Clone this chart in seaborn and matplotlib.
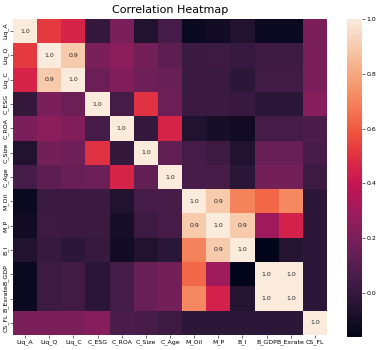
import numpy as np
import pandas as pd
import seaborn as sns
import matplotlib
matplotlib.use('Agg')
import matplotlib.pyplot as plt

labels = ['Liq_A', 'Liq_Q', 'Liq_C', 'C_ESG', 'C_ROA', 'C_Size', 'C_Age',
          'M_Oil', 'M_P', 'B_I', 'B_GDP', 'B_Exrate', 'CS_FL']

# upper triangle of the correlation matrix, row by row (diagonal = 1.0)
row_liq_a = [0.52, 0.46, 0.00, 0.20, -0.06, 0.05, -0.13, -0.11, -0.06, -0.13, -0.13, 0.20]
row_liq_q = [0.90, 0.20, 0.25, 0.18, 0.12, 0.02, 0.03, 0.01, 0.03, 0.03, 0.20]
row_liq_c = [0.16, 0.22, 0.17, 0.15, 0.02, 0.02, -0.02, 0.04, 0.04, 0.20]
row_c_esg = [0.05, 0.50, 0.16, 0.02, 0.02, 0.01, -0.03, -0.03, 0.23]
row_c_roa = [0.00, 0.46, -0.06, -0.09, -0.11, 0.05, 0.05, 0.07]
row_c_size = [0.13, 0.05, 0.03, -0.06, 0.15, 0.15, 0.06]
row_c_age = [0.06, 0.06, -0.03, 0.18, 0.18, 0.03]
row_m_oil = [0.90, 0.70, 0.63, 0.71, -0.02]
row_m_p = [0.90, 0.30, 0.45, -0.02]
row_b_i = [-0.16, -0.05, -0.02]
row_b_gdp = [1.00, -0.02]
row_b_exrate = [-0.02]

rows = [row_liq_a, row_liq_q, row_liq_c, row_c_esg, row_c_roa, row_c_size,
        row_c_age, row_m_oil, row_m_p, row_b_i, row_b_gdp, row_b_exrate]

n = len(labels)
corr = np.eye(n)
for i, r in enumerate(rows):
    for k, v in enumerate(r):
        corr[i, i + 1 + k] = v
        corr[i + 1 + k, i] = v
corr = pd.DataFrame(corr, index=labels, columns=labels)

# only strong correlations are written in the cells
annot = np.where(corr.values >= 0.85, corr.round(1).astype(str).values, '')

fig = plt.figure(figsize=(3.8, 3.5), dpi=100)
ax = fig.add_axes([13 / 380, 15 / 350, 314 / 380, 316 / 350])
cax = fig.add_axes([347 / 380, 13 / 350, 15 / 380, 318 / 350])

sns.heatmap(corr, ax=ax, cbar_ax=cax, cmap='rocket', annot=annot, fmt='',
            annot_kws={'size': 4.5}, square=False)

ax.set_title('Correlation Heatmap', fontsize=8, pad=4)
ax.tick_params(axis='both', labelsize=4.5, length=2, width=0.4, pad=1)
ax.set_xticklabels(labels, rotation=0)
ax.set_yticklabels(labels, rotation=90, va='center')
cax.tick_params(labelsize=4.5, length=2, width=0.4, pad=1)

fig.savefig('out.png', dpi=100)
